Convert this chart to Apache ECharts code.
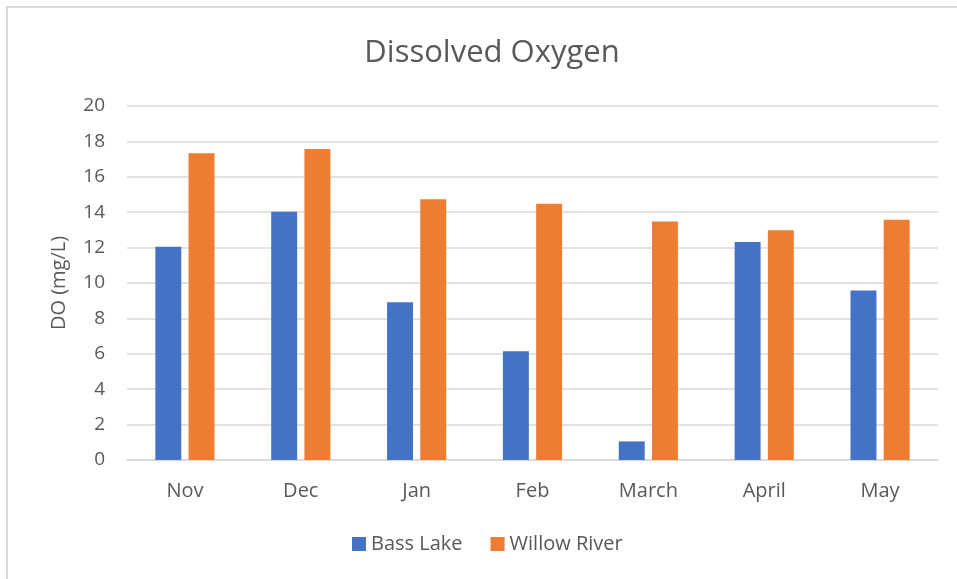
<!DOCTYPE html>
<html>
<head>
<meta charset="utf-8">
<script src="https://cdn.jsdelivr.net/npm/echarts@6/dist/echarts.min.js"></script>
<style>
  html, body { margin: 0; padding: 0; background: #fff; }
  #chart { width: 957px; height: 579px; }
</style>
</head>
<body>
<div id="chart"></div>
<script>
// months on the x axis
const months = ['Nov', 'Dec', 'Jan', 'Feb', 'March', 'April', 'May']
// dissolved oxygen, mg/L
const bassLake = [12.05, 14.03, 8.91, 6.14, 1.05, 12.32, 9.57]
const willowRiver = [17.33, 17.57, 14.73, 14.48, 13.48, 12.98, 13.58]
const seriesNames = ['Bass Lake', 'Willow River']

const textColor = '#595959'
const fontFamily = '"Open Sans", "Noto Sans", sans-serif'

let option = {
  color: ['#4472C4', '#ED7D31'],
  textStyle: { fontFamily: fontFamily },
  title: {
    text: 'Dissolved Oxygen',
    left: 487,
    textAlign: 'center',
    top: 33,
    textStyle: {
      color: textColor,
      fontSize: 31,
      fontWeight: 'normal',
      fontFamily: fontFamily
    }
  },
  graphic: [{
    type: 'rect',
    shape: { x: 7, y: 7, width: 1000, height: 1000 },
    style: { fill: 'none', stroke: '#d9d9d9', lineWidth: 2 },
    silent: true
  }],
  legend: {
    data: seriesNames,
    bottom: 20,
    left: 347,
    icon: 'rect',
    itemWidth: 14,
    itemHeight: 14,
    itemGap: 28,
    textStyle: { color: textColor, fontSize: 20, fontFamily: fontFamily }
  },
  grid: {
    left: 127,
    right: 19,
    top: 106,
    bottom: 119,
    containLabel: false
  },
  xAxis: {
    type: 'category',
    data: months,
    axisLine: { show: true, lineStyle: { color: '#d9d9d9', width: 1.5 } },
    axisTick: { show: false },
    axisLabel: { color: textColor, fontSize: 20, margin: 21 }
  },
  yAxis: {
    type: 'value',
    min: 0,
    max: 20,
    interval: 2,
    name: 'DO (mg/L)',
    nameLocation: 'middle',
    nameGap: 58,
    nameTextStyle: { color: textColor, fontSize: 20 },
    axisLine: { show: false },
    axisTick: { show: false },
    axisLabel: { color: textColor, fontSize: 19, margin: 22 },
    splitLine: { lineStyle: { color: '#d9d9d9', width: 1.5 } }
  },
  series: [
    {
      name: seriesNames[0],
      type: 'bar',
      data: bassLake,
      barWidth: '22.4%',
      barGap: '28%'
    },
    {
      name: seriesNames[1],
      type: 'bar',
      data: willowRiver,
      barWidth: '22.4%',
      barGap: '28%'
    }
  ],
  animation: false
}

let myChart = echarts.init(document.getElementById('chart'))
myChart.setOption(option)
</script>
</body>
</html>
